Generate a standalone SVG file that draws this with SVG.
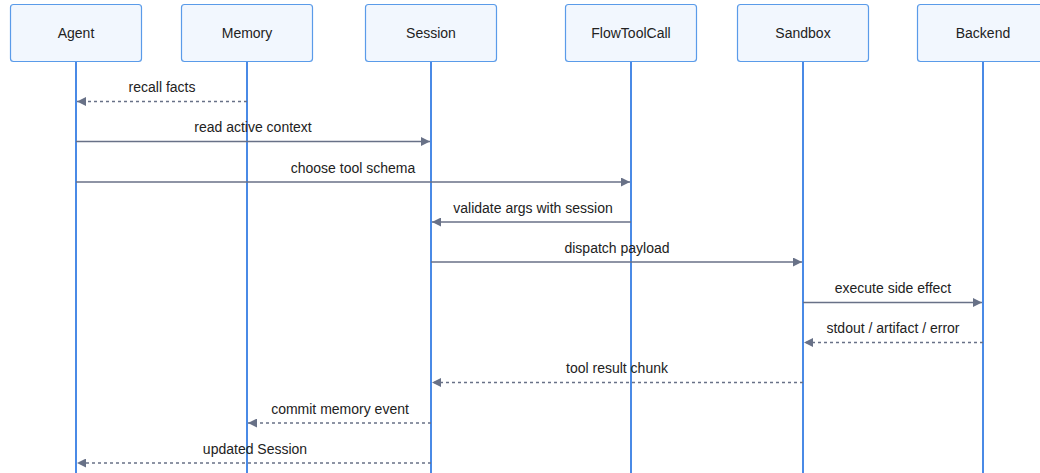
<svg xmlns="http://www.w3.org/2000/svg" width="1040" height="473" viewBox="0 0 1040 473">
<defs>
<style>
.box{fill:#f2f7fe;stroke:#5a9be9;stroke-width:1.2}
.lbl{font-family:"Liberation Sans",Arial,sans-serif;font-size:14px;fill:#222;text-anchor:middle}
.life{stroke:#4a8ae6;stroke-width:2}
.msg{stroke:#687187;stroke-width:1.4;fill:none;marker-end:url(#ah)}
.ret{stroke-dasharray:3 3}
.mt{font-family:"Liberation Sans",Arial,sans-serif;font-size:14px;fill:#222;text-anchor:middle}
</style>
<marker id="ah" viewBox="0 0 10 10" refX="10" refY="5" markerWidth="10" markerHeight="9" markerUnits="userSpaceOnUse" orient="auto">
<path d="M0,0 L10,5 L0,10 z" fill="#687187"/>
</marker>
</defs>
<rect width="1040" height="473" fill="#fff"/>
<g id="lifelines">
<line class="life" x1="76" y1="61" x2="76" y2="473"/>
<line class="life" x1="247" y1="61" x2="247" y2="473"/>
<line class="life" x1="431" y1="61" x2="431" y2="473"/>
<line class="life" x1="631" y1="61" x2="631" y2="473"/>
<line class="life" x1="803" y1="61" x2="803" y2="473"/>
<line class="life" x1="983" y1="61" x2="983" y2="473"/>
</g>
<g id="node-agent"><rect class="box" x="10.5" y="4.5" width="131" height="57" rx="3"/><text class="lbl" x="76" y="38">Agent</text></g>
<g id="node-memory"><rect class="box" x="181.5" y="4.5" width="131" height="57" rx="3"/><text class="lbl" x="247" y="38">Memory</text></g>
<g id="node-session"><rect class="box" x="365.5" y="4.5" width="131" height="57" rx="3"/><text class="lbl" x="431" y="38">Session</text></g>
<g id="node-flowtoolcall"><rect class="box" x="565.5" y="4.5" width="131" height="57" rx="3"/><text class="lbl" x="631" y="38">FlowToolCall</text></g>
<g id="node-sandbox"><rect class="box" x="737.5" y="4.5" width="131" height="57" rx="3"/><text class="lbl" x="803" y="38">Sandbox</text></g>
<g id="node-backend"><rect class="box" x="917.5" y="4.5" width="131" height="57" rx="3"/><text class="lbl" x="983" y="38">Backend</text></g>
<g id="connectors">
<line class="msg ret" x1="247" y1="101.5" x2="77" y2="101.5"/>
<text class="mt" x="162" y="92">recall facts</text>
<line class="msg" x1="76" y1="141.5" x2="430" y2="141.5"/>
<text class="mt" x="253" y="132">read active context</text>
<line class="msg" x1="76" y1="182" x2="630" y2="182"/>
<text class="mt" x="353" y="172.5">choose tool schema</text>
<line class="msg" x1="631" y1="222" x2="432" y2="222"/>
<text class="mt" x="533" y="212.5">validate args with session</text>
<line class="msg" x1="431" y1="262" x2="802" y2="262"/>
<text class="mt" x="617" y="252.5">dispatch payload</text>
<line class="msg" x1="803" y1="302.5" x2="982" y2="302.5"/>
<text class="mt" x="893" y="293">execute side effect</text>
<line class="msg ret" x1="983" y1="342.5" x2="804" y2="342.5"/>
<text class="mt" x="893" y="333">stdout / artifact / error</text>
<line class="msg ret" x1="803" y1="382.5" x2="432" y2="382.5"/>
<text class="mt" x="617" y="373">tool result chunk</text>
<line class="msg ret" x1="431" y1="423" x2="248" y2="423"/>
<text class="mt" x="340" y="413.5">commit memory event</text>
<line class="msg ret" x1="431" y1="463" x2="77" y2="463"/>
<text class="mt" x="255" y="453.5">updated Session</text>
</g>
</svg>
